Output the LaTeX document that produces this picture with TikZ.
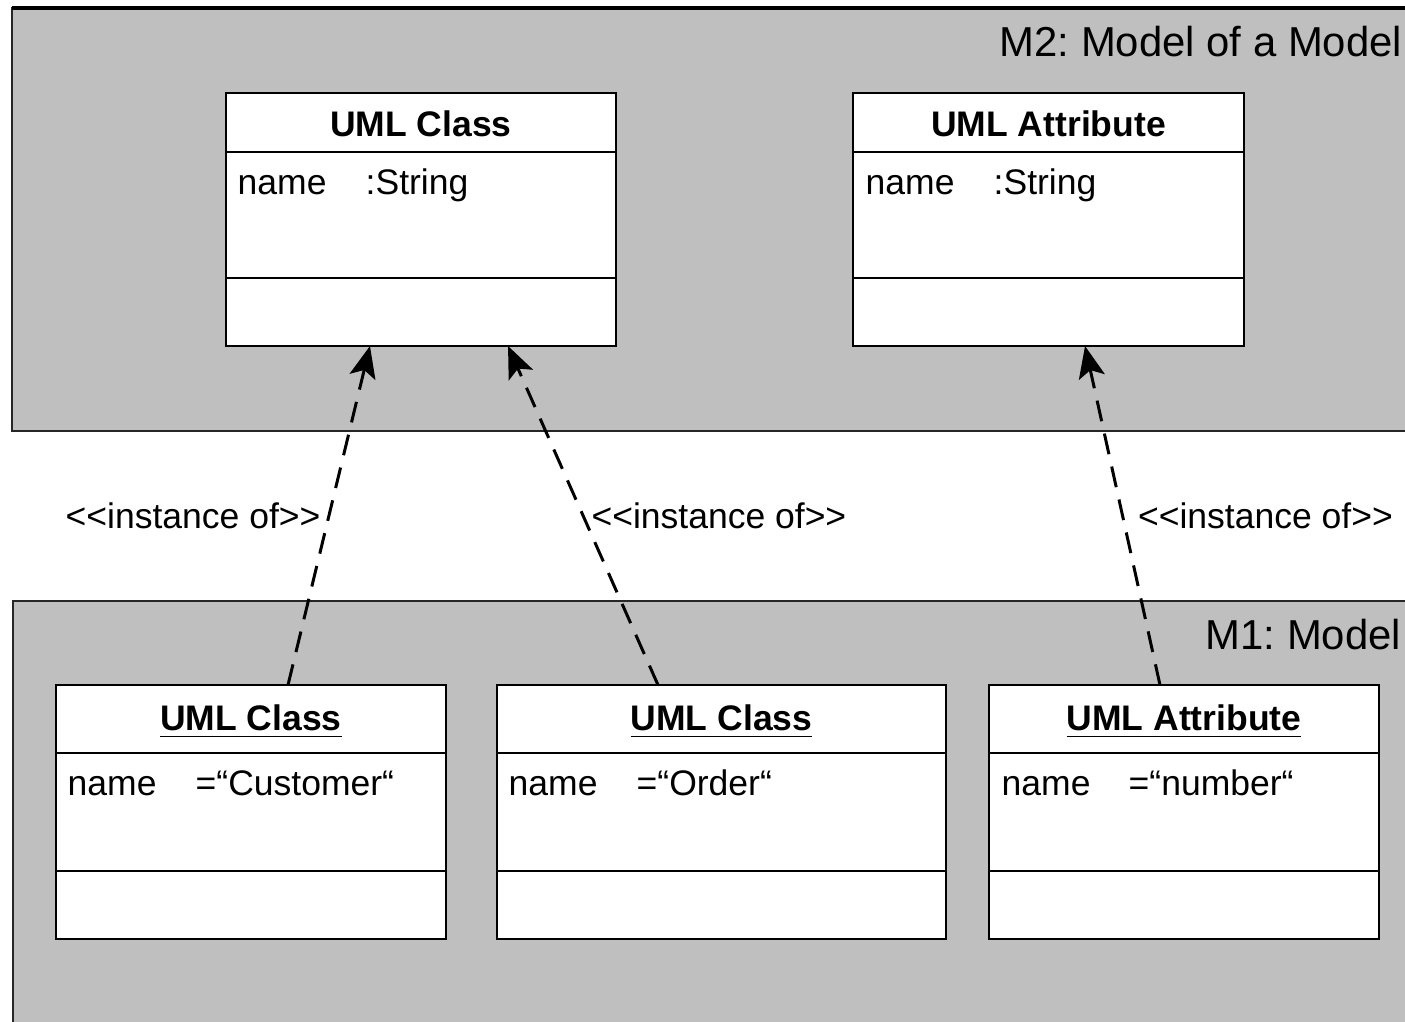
\documentclass[tikz,border=0pt]{standalone}
\usepackage{fontspec}
\setmainfont{Liberation Sans}[Ligatures=TeXOff]
\usetikzlibrary{arrows.meta,positioning}
\frenchspacing

\begin{document}
\begin{tikzpicture}[x=0.01cm, y=0.01cm,
  pkg/.style={draw=black!85, line width=0.7pt, fill=black!25},
  classbox/.style={draw, line width=0.6pt, fill=white, inner sep=0pt, outer sep=0pt},
  txt/.style={inner sep=0pt, anchor=base west, font=\fontsize{10.1}{12}\selectfont},
  title/.style={inner sep=0pt, anchor=base, font=\fontsize{10.1}{12}\selectfont\bfseries},
  pkglabel/.style={inner sep=0pt, anchor=base west, font=\fontsize{11.9}{14}\selectfont},
  lbl/.style={inner sep=2pt, font=\fontsize{10.1}{12}\selectfont},
  instof/.style={dash pattern=on 6pt off 3.6pt, line width=0.85pt,
    -{Stealth[length=9pt,width=7.5pt,inset=2pt]}}]
\useasboundingbox (0,0) rectangle (1405,-1022);
\clip (0,0) rectangle (1405,-1022);

% packages
\draw [pkg] (12,-8) rectangle (1500,-431);
\draw [pkg] (13,-601) rectangle (1500,-1100);
\draw [black, line width=1.1pt] (12,-8) -- (1500,-8);
\node [pkglabel] (m2lbl) at (999,-57) {M2: Model of a Model};
\node [pkglabel] (m1lbl) at (1205,-650) {M1: Model};

% M2 classes
\node [classbox, minimum width=3.9cm, minimum height=2.53cm] (m2class) at (421,-219.5) {};
\draw (m2class.west |- 0,-152) -- (m2class.east |- 0,-152);
\draw (m2class.west |- 0,-278) -- (m2class.east |- 0,-278);
\node [title] (m2classt) at (421,-137) {UML Class};
\node [txt] (m2classn) at (237,-195) {name};
\node [txt] (m2classv) at (365,-195) {:String};

\node [classbox, minimum width=3.91cm, minimum height=2.53cm] (m2attr) at (1048.5,-219.5) {};
\draw (m2attr.west |- 0,-152) -- (m2attr.east |- 0,-152);
\draw (m2attr.west |- 0,-278) -- (m2attr.east |- 0,-278);
\node [title] (m2attrt) at (1048.5,-137) {UML Attribute};
\node [txt] (m2attrn) at (865,-195) {name};
\node [txt] (m2attrv) at (993,-195) {:String};

% M1 objects
\node [classbox, minimum width=3.9cm, minimum height=2.54cm] (m1cust) at (251,-812) {};
\draw (m1cust.west |- 0,-753) -- (m1cust.east |- 0,-753);
\draw (m1cust.west |- 0,-871) -- (m1cust.east |- 0,-871);
\node [title] (m1custt) at (251,-731) {\underline{UML Class}};
\node [txt] (m1custn) at (67,-796) {name};
\node [txt] (m1custv) at (195,-796) {=“Customer“};

\node [classbox, minimum width=4.49cm, minimum height=2.54cm] (m1order) at (721.5,-812) {};
\draw (m1order.west |- 0,-753) -- (m1order.east |- 0,-753);
\draw (m1order.west |- 0,-871) -- (m1order.east |- 0,-871);
\node [title] (m1ordert) at (721.5,-731) {\underline{UML Class}};
\node [txt] (m1ordern) at (508,-796) {name};
\node [txt] (m1orderv) at (636,-796) {=“Order“};

\node [classbox, minimum width=3.9cm, minimum height=2.54cm] (m1num) at (1184,-812) {};
\draw (m1num.west |- 0,-753) -- (m1num.east |- 0,-753);
\draw (m1num.west |- 0,-871) -- (m1num.east |- 0,-871);
\node [title] (m1numt) at (1184,-731) {\underline{UML Attribute}};
\node [txt] (m1numn) at (1001,-796) {name};
\node [txt] (m1numv) at (1128,-796) {=“number“};

% instance-of links
\draw [instof] ([xshift=0.37cm]m1cust.north) -- ([xshift=-0.51cm]m2class.south)
  node [lbl, pos=0.5, anchor=east] (l1) {<\kern0pt<instance of>\kern0pt>};
\draw [instof] ([xshift=-0.635cm]m1order.north) -- ([xshift=0.87cm]m2class.south)
  node [lbl, pos=0.5, anchor=west] (l2) {<\kern0pt<instance of>\kern0pt>};
\draw [instof] ([xshift=-0.24cm]m1num.north) -- ([xshift=0.365cm]m2attr.south)
  node [lbl, pos=0.5, anchor=west, xshift=2pt] (l3) {<\kern0pt<instance of>\kern0pt>};
\end{tikzpicture}
\end{document}
